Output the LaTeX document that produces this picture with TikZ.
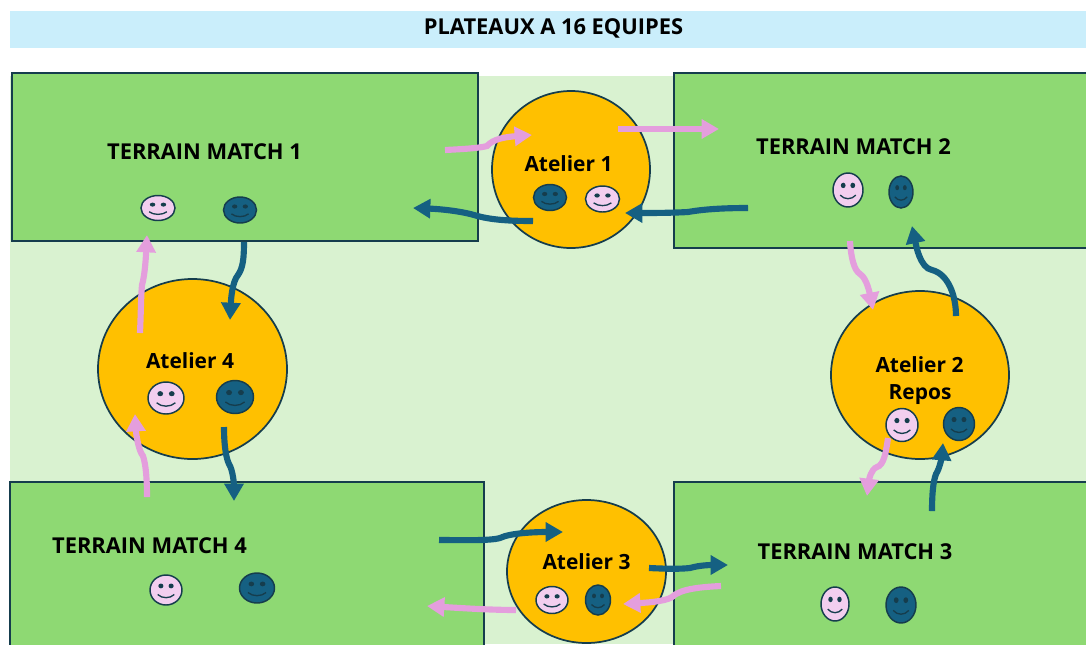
\documentclass[tikz,border=0pt]{standalone}
\usepackage{fontspec}
\setmainfont{Open Sans}
\usetikzlibrary{arrows.meta}

\definecolor{bandeau}{HTML}{CAEEFB}
\definecolor{fond}{HTML}{D9F2D0}
\definecolor{terrain}{HTML}{8ED973}
\definecolor{atelier}{HTML}{FFC000}
\definecolor{contour}{HTML}{153D4D}
\definecolor{bleu}{HTML}{156082}
\definecolor{rose}{HTML}{F2CEEF}
\definecolor{roseflux}{HTML}{E49EDD}

\tikzset{every picture/.style={line width=0.75pt},
	terrainbox/.style={draw=contour,fill=terrain,line width=1.5pt},
	atelierdisc/.style={draw=contour,fill=atelier,line width=1.3pt},
	fluxrose/.style={draw=roseflux,line width=4.6pt,-{Triangle[width=14pt,length=13pt]}},
	fluxbleu/.style={draw=bleu,line width=4.6pt,-{Triangle[width=14pt,length=13pt]}},
	lbl/.style={font=\bfseries\fontsize{16.4}{20}\selectfont,align=center,inner sep=0pt},
	lblat/.style={font=\bfseries\fontsize{15.7}{20}\selectfont,align=center,inner sep=0pt}}

% x, y, x radius, y radius, face colour
\newcommand{\smiley}[5]{
	\begin{scope}[shift={(#1,#2)},xscale=#3,yscale=#4]
		\draw [draw=contour,fill=#5,line width=1.1pt] (0,0) circle (1);
		\fill [contour] (-0.32,-0.27) ellipse [x radius=0.16,y radius=0.16];
		\fill [contour] (0.32,-0.27) ellipse [x radius=0.16,y radius=0.16];
		\draw [contour,line width=1pt] (-0.52,0.3) .. controls (-0.25,0.58) and (0.25,0.58) .. (0.52,0.3);
	\end{scope}
}

\begin{document}
\begin{tikzpicture}[x=0.75pt,y=0.75pt,yscale=-1,xscale=1]
	\path [use as bounding box,clip] (0,0) rectangle (1086,644);

	%Shape: Title band
	\fill [bandeau] (10,11) rectangle (1086,48);
	%Shape: Background
	\fill [fond] (10,76) rectangle (1086,644);

	%Shape: Terrains
	\draw [terrainbox] (12,73) rectangle (478,241);
	\draw [terrainbox] (674,73) rectangle (1095,248);
	\draw [terrainbox] (674,482) rectangle (1095,655);
	\draw [terrainbox] (10,482) rectangle (484,655);

	%Shape: Ateliers
	\draw [atelierdisc] (571,169.5) ellipse [x radius=79,y radius=78.5];
	\draw [atelierdisc] (920,375) ellipse [x radius=89,y radius=84];
	\draw [atelierdisc] (586.5,571.5) ellipse [x radius=79.5,y radius=71.5];
	\draw [atelierdisc] (192.5,369) ellipse [x radius=94.5,y radius=90];

	%Shape: Smileys
	\smiley{158}{208}{17}{12.5}{rose}
	\smiley{240}{210}{16.5}{13}{bleu}
	\smiley{550}{197.5}{16.5}{13}{bleu}
	\smiley{602.5}{199}{17}{13}{rose}
	\smiley{848}{190}{15}{17}{rose}
	\smiley{901}{192}{12}{16}{bleu}
	\smiley{902}{425}{16}{16.5}{rose}
	\smiley{959}{424}{15.5}{16.5}{bleu}
	\smiley{835}{604}{14}{17}{rose}
	\smiley{901}{605}{15}{18}{bleu}
	\smiley{552}{600}{16}{13.5}{rose}
	\smiley{598}{600}{12.5}{15}{bleu}
	\smiley{166}{590}{16}{15}{rose}
	\smiley{257}{588}{17.5}{15}{bleu}
	\smiley{166}{398}{18}{16}{rose}
	\smiley{235}{397}{18.5}{16.5}{bleu}

	% Text Node
	\node [lbl] (titre) at (553.5,28.5) {PLATEAUX A 16 EQUIPES};
	\node [lbl] (match1) at (204.5,151.5) {TERRAIN MATCH 1};
	\node [lbl] (match2) at (853.5,146.5) {TERRAIN MATCH 2};
	\node [lbl] (match3) at (855,552) {TERRAIN MATCH 3};
	\node [lbl] (match4) at (149.5,546) {TERRAIN MATCH 4};
	\node [lblat] (at1) at (568.5,164) {Atelier 1};
	\node [lblat] (at2) at (919.5,365) {Atelier 2};
	\node [lblat] (at2b) at (920,394.5) {Repos};
	\node [lblat] (at3) at (586.5,562) {Atelier 3};
	\node [lblat] (at4) at (190,361) {Atelier 4};

	% Flux ends
	\coordinate (r1a) at (445,150);   \coordinate (r1b) at (532,135);
	\coordinate (r2a) at (618,129);   \coordinate (r2b) at (719,129);
	\coordinate (b1a) at (748,208);   \coordinate (b1b) at (625,213);
	\coordinate (b2a) at (533,221);   \coordinate (b2b) at (413,208);
	\coordinate (r3a) at (850,241);   \coordinate (r3b) at (873,310);
	\coordinate (b3a) at (956,316);   \coordinate (b3b) at (912,226);
	\coordinate (r4a) at (888,438);   \coordinate (r4b) at (867,496);
	\coordinate (b4a) at (932,511);   \coordinate (b4b) at (943,443);
	\coordinate (b5a) at (649,568);   \coordinate (b5b) at (728,565);
	\coordinate (r5a) at (721,586);   \coordinate (r5b) at (623,604);
	\coordinate (b6a) at (439,540);   \coordinate (b6b) at (563,532);
	\coordinate (r6a) at (516,610);   \coordinate (r6b) at (427,606);
	\coordinate (b7a) at (224,427);   \coordinate (b7b) at (234,501);
	\coordinate (r7a) at (147,497);   \coordinate (r7b) at (135,414);
	\coordinate (r8a) at (140,333);   \coordinate (r8b) at (147,235);
	\coordinate (b8a) at (244,242);   \coordinate (b8b) at (230,320);

	%Shape: Flux
	\draw [fluxrose] (r1a) .. controls (465,149) and (480,148) .. (487,146) .. controls (493,139) and (505,137) .. (r1b);
	\draw [fluxrose] (r2a) -- (r2b);
	\draw [fluxbleu] (b1a) .. controls (725,208) and (705,209) .. (688,212) .. controls (670,213) and (650,213) .. (b1b);
	\draw [fluxbleu] (b2a) .. controls (510,221) and (490,220) .. (474,215) .. controls (460,211) and (440,209) .. (b2b);
	\draw [fluxrose] (r3a) .. controls (851,258) and (854,270) .. (860,274) .. controls (867,278) and (870,295) .. (r3b);
	\draw [fluxbleu] (b3a) .. controls (956,295) and (948,274) .. (932,270) .. controls (920,268) and (916,245) .. (b3b);
	\draw [fluxrose] (r4a) .. controls (886,452) and (884,465) .. (877,467) .. controls (871,469) and (869,480) .. (r4b);
	\draw [fluxbleu] (b4a) .. controls (932,495) and (933,482) .. (936,474) .. controls (940,468) and (942,455) .. (b4b);
	\draw [fluxbleu] (b5a) .. controls (670,569) and (680,569) .. (690,568) .. controls (700,565) and (712,565) .. (b5b);
	\draw [fluxrose] (r5a) .. controls (700,587) and (680,589) .. (672,597) .. controls (665,602) and (640,603) .. (r5b);
	\draw [fluxbleu] (b6a) .. controls (460,540) and (490,541) .. (500,538) .. controls (510,533) and (535,532) .. (b6b);
	\draw [fluxrose] (r6a) .. controls (490,610) and (460,608) .. (r6b);
	\draw [fluxbleu] (b7a) .. controls (224,445) and (226,458) .. (229,464) .. controls (233,470) and (234,485) .. (b7b);
	\draw [fluxrose] (r7a) .. controls (147,480) and (146,465) .. (143,456) .. controls (138,450) and (136,432) .. (r7b);
	\draw [fluxrose] (r8a) .. controls (141,310) and (141,295) .. (142,285) .. controls (145,275) and (146,255) .. (r8b);
	\draw [fluxbleu] (b8a) .. controls (244,258) and (243,268) .. (238,275) .. controls (232,282) and (231,300) .. (b8b);

\end{tikzpicture}
\end{document}
